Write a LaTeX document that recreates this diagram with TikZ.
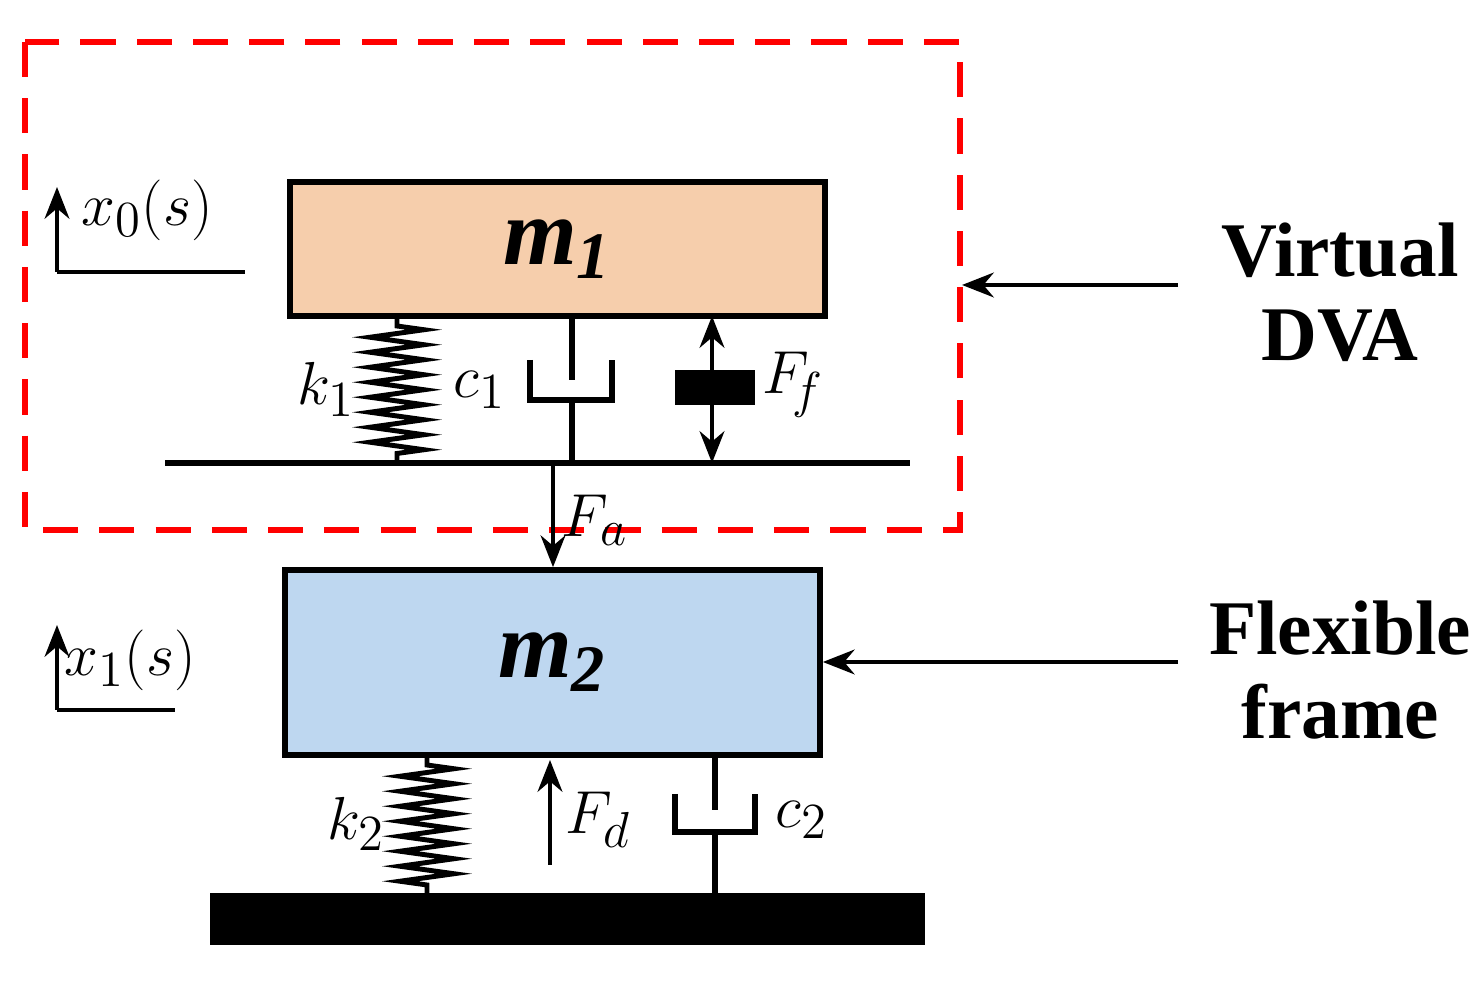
\documentclass[tikz,border=0pt]{standalone}
\usepackage{fontspec}
\setmainfont{Liberation Serif}
\usetikzlibrary{positioning,calc,decorations.pathmorphing,arrows.meta}
\tikzset{>={Stealth[length=9pt,width=7pt]},
  mass/.style={draw, line width=1.6pt, inner sep=0pt},
  spring/.style={line width=1.4pt, decorate, decoration={zigzag, amplitude=0.27cm, segment length=0.15cm, pre length=0.1cm, post length=0.08cm}},
  cup/.style={line width=1.6pt},
  lbl/.style={font=\fontsize{19}{21}\selectfont, inner sep=1pt},
  side/.style={font=\fontsize{22}{24}\selectfont\bfseries, align=center}}
\begin{document}
\begin{tikzpicture}[line width=1.4pt]
    \useasboundingbox (0,0) rectangle (14.78,9.82);
    % dashed frame of the virtual absorber
    \draw[red, dashed, line width=1.6pt, dash pattern=on 10pt off 6pt] (0.25,9.40) rectangle (9.60,4.52);
    % masses
    \node[mass, fill={rgb,255:red,246;green,206;blue,172}, minimum width=5.35cm, minimum height=1.34cm] (m1) at (5.575,7.33) {};
    \node[font=\fontsize{27}{29}\selectfont\bfseries\itshape] at (m1) {m\textsubscript{\textit{1}}};
    \node[mass, fill={rgb,255:red,190;green,215;blue,240}, minimum width=5.35cm, minimum height=1.85cm] (m2) at (5.525,3.195) {};
    \node[font=\fontsize{27}{29}\selectfont\bfseries\itshape] at (m2) {m\textsubscript{\textit{2}}};
    % middle bar and ground
    \coordinate (barL) at (1.65,5.19);
    \coordinate (barR) at (9.10,5.19);
    \draw[line width=1.6pt] (barL) -- (barR);
    \fill (2.10,0.37) rectangle (9.25,0.89);
    % spring k1
    \coordinate (k1t) at (3.97,6.66);
    \coordinate (k1b) at (3.97,5.19);
    \draw[spring] (k1t) -- (k1b);
    \node[lbl, left=0.36cm of $(k1t)!0.5!(k1b)$] {$k_1$};
    % damper c1
    \coordinate (c1t) at (5.72,6.66);
    \coordinate (c1p) at (5.72,6.02);
    \coordinate (c1c) at (5.72,5.82);
    \coordinate (c1b) at (5.72,5.19);
    \draw[cup] (c1t) -- (c1p) (c1c) -- (c1b);
    \draw[cup] (5.30,6.22) -- (5.30,5.82) -- (6.12,5.82) -- (6.12,6.22);
    \node[lbl] at (4.80,5.92) {$c_1$};
    % friction element
    \coordinate (fft) at (7.12,6.66);
    \coordinate (ffb) at (7.12,5.19);
    \draw[<->] (fft) -- (ffb);
    \fill (6.75,5.77) rectangle (7.55,6.12);
    \node[lbl] at (7.93,5.97) {$F_{\!f}$};
    % actuator force
    \coordinate (fa) at (5.53,5.19);
    \draw[->] (fa) -- (fa |- m2.north);
    \node[lbl] at (5.95,4.62) {$F_a$};
    % spring k2
    \coordinate (k2t) at (4.27,2.27);
    \coordinate (k2b) at (4.27,0.89);
    \draw[spring] (k2t) -- (k2b);
    \node[lbl, left=0.36cm of $(k2t)!0.5!(k2b)$] {$k_2$};
    % disturbance force
    \coordinate (fd) at (5.50,1.17);
    \draw[->] (fd) -- (5.50,2.22);
    \node[lbl] at (5.98,1.62) {$F_d$};
    % damper c2
    \coordinate (c2t) at (7.15,2.27);
    \coordinate (c2p) at (7.15,1.72);
    \coordinate (c2c) at (7.15,1.50);
    \coordinate (c2b) at (7.15,0.89);
    \draw[cup] (c2t) -- (c2p) (c2c) -- (c2b);
    \draw[cup] (6.75,1.88) -- (6.75,1.50) -- (7.55,1.50) -- (7.55,1.88);
    \node[lbl] at (8.02,1.62) {$c_2$};
    % displacement axes
    \coordinate (x0o) at (0.57,7.10);
    \draw[->] (x0o) -- (0.57,7.95);
    \draw (x0o) -- (2.45,7.10);
    \node[lbl] at (1.47,7.72) {$x_0(s)$};
    \coordinate (x1o) at (0.57,2.72);
    \draw[->] (x1o) -- (0.57,3.57);
    \draw (x1o) -- (1.75,2.72);
    \node[lbl] at (1.30,3.22) {$x_1(s)$};
    % side notes
    \node[side] (dva) at (13.40,6.90) {Virtual\\DVA};
    \node[side] (frame) at (13.40,3.12) {Flexible\\frame};
    \draw[->] (11.78,6.97) -- (9.62,6.97);
    \draw[->] (11.78,3.20) -- (m2.east |- 0,3.20);
\end{tikzpicture}
\end{document}
